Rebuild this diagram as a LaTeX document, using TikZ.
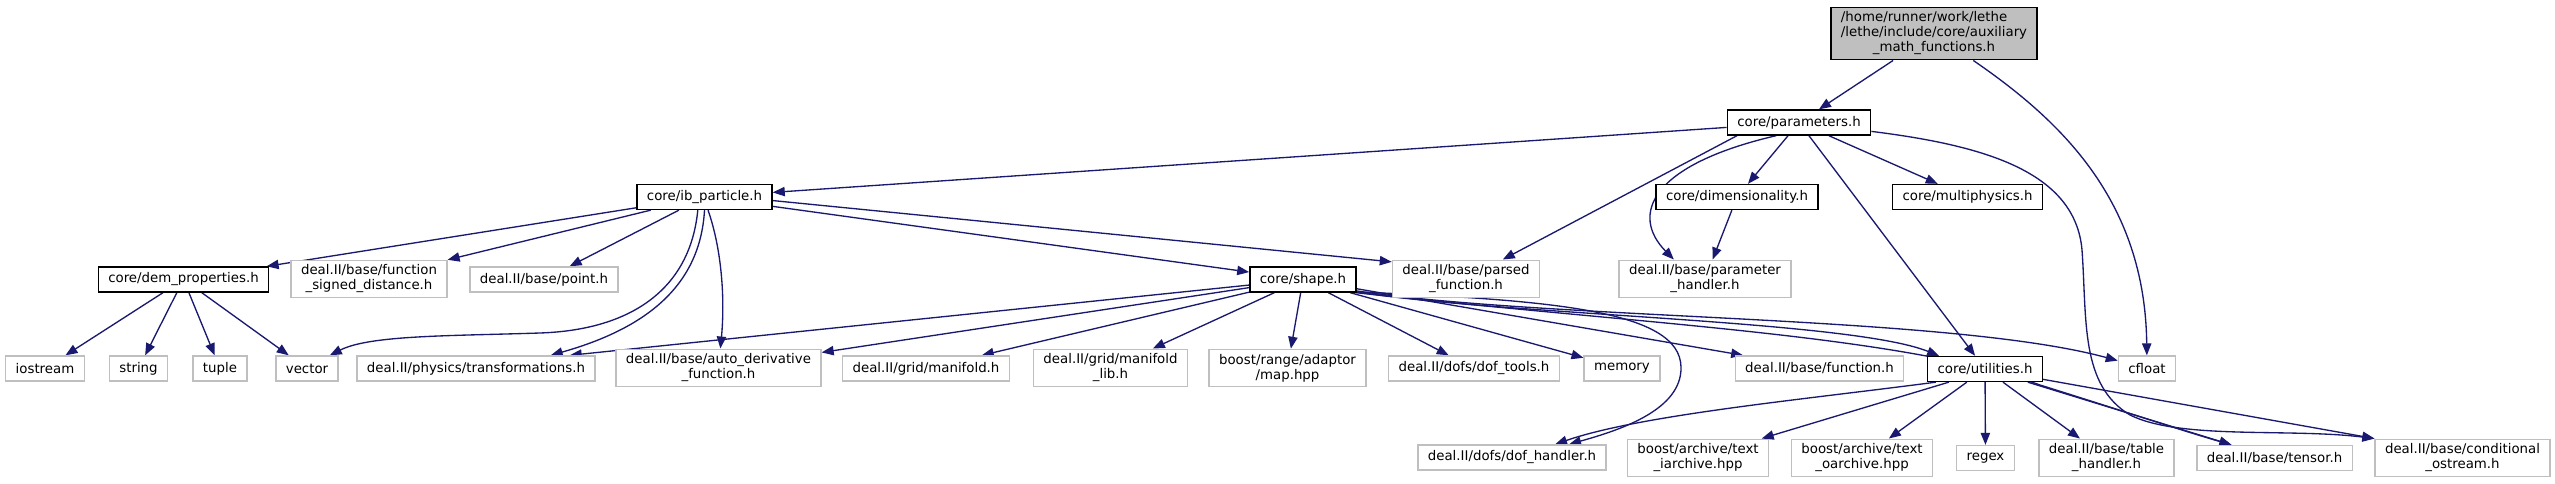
\documentclass[tikz,border=0pt]{standalone}
\usepackage{fontspec}
\setmainfont{DejaVu Sans}
\usepackage{xcolor}
\usepackage{tikz}
\usetikzlibrary{positioning,arrows.meta,backgrounds}

\definecolor{edgeblue}{HTML}{191970}
\definecolor{extgrey}{HTML}{BFBFBF}

\begin{document}
\begin{tikzpicture}[
    x=0.75pt, y=-0.75pt, % one unit = one pixel of the graph, y going down
    every node/.style={
        rectangle,
        font=\fontsize{10}{11.25}\selectfont,
        align=center,
        inner xsep=7.5pt,
        inner ysep=3.5pt,
        minimum height=18.75pt,
        fill=white,
        line width=1pt
    },
    docfile/.style={draw=black},
    extfile/.style={draw=extgrey},
    rootfile/.style={draw=black, fill=extgrey},
    inc/.style={draw=edgeblue, line width=1pt, -{Triangle[length=9pt,width=7pt]}}
]
\useasboundingbox (0,0) rectangle (2555,484);

% --- rank 0 and 1
\node[rootfile] (amf) at (1934,33.5) {\rlap{/home/runner/work/lethe}\phantom{/lethe/include/core/auxiliary}\\/lethe/include/core/auxiliary\\\_math\_functions.h};
\node[docfile] (parameters) at (1799,122.5) {core/parameters.h};

% --- rank 2
\node[docfile] (ibparticle) at (704.5,197) {core/ib\_particle.h};
\node[docfile] (dimensionality) at (1737,197) {core/dimensionality.h};
\node[docfile] (multiphysics) at (1967.5,197) {core/multiphysics.h};

% --- rank 3
\node[docfile] (demproperties) at (183.5,279.5) {core/dem\_properties.h};
\node[extfile] (signeddist) at (369,279) {deal.II/base/function\\\_signed\_distance.h};
\node[extfile] (point) at (544,279.5) {deal.II/base/point.h};
\node[docfile] (shape) at (1303,279.5) {core/shape.h};
\node[extfile] (parsedfn) at (1466,279) {deal.II/base/parsed\\\_function.h};
\node[extfile] (paramhandler) at (1705,279) {deal.II/base/parameter\\\_handler.h};

% --- rank 4
\node[extfile] (iostream) at (45,368.5) {iostream};
\node[extfile] (string) at (138.5,368.5) {string};
\node[extfile] (tuple) at (220,368.5) {tuple};
\node[extfile] (vector) at (307,368.5) {vector};
\node[extfile] (transformations) at (476,368.5) {deal.II/physics/transformations.h};
\node[extfile] (autoderiv) at (718.5,368) {deal.II/base/auto\_derivative\\\_function.h};
\node[extfile] (manifold) at (926,368.5) {deal.II/grid/manifold.h};
\node[extfile] (manifoldlib) at (1110.5,368) {deal.II/grid/manifold\\\_lib.h};
\node[extfile] (rangemap) at (1287.5,368) {boost/range/adaptor\\/map.hpp};
\node[extfile] (doftools) at (1474,368.5) {deal.II/dofs/dof\_tools.h};
\node[extfile] (memory) at (1622,368.5) {memory};
\node[extfile] (function) at (1819.5,368.5) {deal.II/base/function.h};
\node[docfile] (utilities) at (1985,369) {core/utilities.h};
\node[extfile] (cfloat) at (2147,368.5) {cfloat};

% --- rank 5
\node[extfile] (dofhandler) at (1512,457.5) {deal.II/dofs/dof\_handler.h};
\node[extfile] (iarchive) at (1698,458) {boost/archive/text\\\_iarchive.hpp};
\node[extfile] (oarchive) at (1862,458) {boost/archive/text\\\_oarchive.hpp};
\node[extfile] (regex) at (1985.5,458) {regex};
\node[extfile] (tablehandler) at (2106.5,458) {deal.II/base/table\\\_handler.h};
\node[extfile] (tensor) at (2274.5,458) {deal.II/base/tensor.h};
\node[extfile] (condostream) at (2462.5,458) {deal.II/base/conditional\\\_ostream.h};

% --- include arrows, kept under the boxes
\begin{scope}[on background layer]
\draw[inc] (amf) -- (parameters);
\draw[inc] (amf) .. controls (2060,120) and (2145,200) .. (cfloat);

\draw[inc] (parameters) -- (ibparticle);
\draw[inc] (parameters.-168) -- (parsedfn);
\draw[inc] (parameters.-150) .. controls (1650,165) and (1630,215) .. (paramhandler.148);
\draw[inc] (parameters) -- (dimensionality);
\draw[inc] (parameters) -- (multiphysics);
\draw[inc] (parameters) -- (utilities);
\draw[inc] (parameters.-7) .. controls (1980,145) and (2075,170) .. (2082,250)
    .. controls (2087,320) and (2080,385) .. (2130,415)
    .. controls (2180,440) and (2290,428) .. (condostream.north west);
\draw[inc] (dimensionality) -- (paramhandler);

\draw[inc] (ibparticle) -- (demproperties);
\draw[inc] (ibparticle) -- (signeddist);
\draw[inc] (ibparticle) -- (point);
\draw[inc] (ibparticle.-117) .. controls (690,290) and (630,330) .. (540,333)
    .. controls (450,336) and (370,335) .. (vector.30);
\draw[inc] (ibparticle.-90) .. controls (700,290) and (640,330) .. (transformations.10);
\draw[inc] (ibparticle.-75) .. controls (722,250) and (725,300) .. (autoderiv);
\draw[inc] (ibparticle) -- (shape);
\draw[inc] (ibparticle.-3) -- (parsedfn.167);

\draw[inc] (demproperties) -- (iostream);
\draw[inc] (demproperties) -- (string);
\draw[inc] (demproperties) -- (tuple);
\draw[inc] (demproperties) -- (vector);

\draw[inc] (shape) -- (transformations.8);
\draw[inc] (shape) -- (autoderiv);
\draw[inc] (shape) -- (manifold);
\draw[inc] (shape) -- (manifoldlib);
\draw[inc] (shape) -- (rangemap);
\draw[inc] (shape) -- (doftools);
\draw[inc] (shape) -- (memory);
\draw[inc] (shape) -- (function);
\draw[inc] (shape.-13) .. controls (1500,315) and (1850,320) .. (utilities.164);
\draw[inc] (shape.-12) .. controls (1550,320) and (1950,315) .. (cfloat.165);
\draw[inc] (shape.-13) .. controls (1550,300) and (1680,310) .. (1681,367)
    .. controls (1682,410) and (1620,430) .. (dofhandler.13);
\draw[inc] (shape.-14) .. controls (1650,325) and (1900,335) .. (2040,385)
    .. controls (2120,410) and (2180,430) .. (tensor.163);

\draw[inc] (utilities.-165) .. controls (1800,400) and (1640,415) .. (dofhandler.17);
\draw[inc] (utilities.-160) -- (iarchive.17);
\draw[inc] (utilities) -- (oarchive);
\draw[inc] (utilities) -- (regex);
\draw[inc] (utilities) -- (tablehandler);
\draw[inc] (utilities) -- (tensor.163);
\draw[inc] (utilities) -- (condostream.north west);
\end{scope}

\end{tikzpicture}
\end{document}
